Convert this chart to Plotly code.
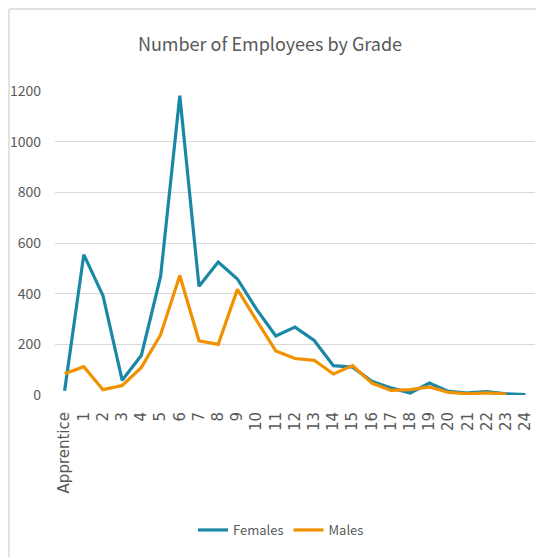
import plotly.graph_objects as go

grades = ["Apprentice"] + [str(i) for i in range(1, 25)]
females = [17, 554, 392, 58, 157, 468, 1182, 429, 525, 458, 338, 233, 268, 215, 116, 110, 54, 28, 8, 47, 14, 8, 13, 5, 2]
males = [84, 112, 21, 37, 109, 238, 472, 214, 200, 417, 294, 174, 144, 137, 83, 116, 47, 18, 21, 32, 10, 5, 8, 4]

TEAL = "#1A88A5"
ORANGE = "#F29100"
GRAY = "#595959"
NARROW = "Noto Sans CJK SC, Lato, sans-serif"

fig = go.Figure()
fig.add_trace(go.Scatter(x=grades, y=females, mode="lines", name="Females",
                         line=dict(color=TEAL, width=3.2)))
fig.add_trace(go.Scatter(x=grades[:len(males)], y=males, mode="lines", name="Males",
                         line=dict(color=ORANGE, width=3.2)))

# page has an 8px body margin, so figure coordinates = page coordinates - 8
OFF = 8
W, H = 536, 549
L = 55 - OFF
T = 91 - OFF
R = W - (535 - OFF)
B = H - (395 - OFF)
pw = W - L - R
ph = H - T - B

def px_x(p):
    return (p - OFF - L) / pw

def px_y(p):
    return ((395 - OFF) - (p - OFF)) / ph

fig.update_layout(
    width=W, height=H,
    margin=dict(l=L, r=R, t=T, b=B, autoexpand=False),
    paper_bgcolor="white", plot_bgcolor="white",
    title=dict(text="Number of Employees by Grade", x=(270 - OFF) / W, xanchor="center",
               y=1 - (45 - OFF) / H, yanchor="middle",
               font=dict(family=NARROW, size=18, color=GRAY)),
    xaxis=dict(type="category", categoryorder="array", categoryarray=grades,
               range=[-0.5, 24.5], tickangle=-90, showgrid=False, zeroline=False,
               showline=False, ticks="", ticklabelstandoff=13, automargin=False,
               tickfont=dict(family="DejaVu Sans", size=15, color=GRAY)),
    yaxis=dict(range=[0, 1200], tickvals=[0, 200, 400, 600, 800, 1000, 1200],
               showgrid=True, gridcolor="#D9D9D9", gridwidth=1.2, zeroline=False,
               showline=False, ticks="", ticklabelstandoff=13, automargin=False,
               tickfont=dict(family=NARROW, size=14, color=GRAY)),
    legend=dict(orientation="h", x=px_x(281), xanchor="center", y=px_y(530),
                yanchor="middle", font=dict(family=NARROW, size=13, color=GRAY),
                itemwidth=30, tracegroupgap=0),
    shapes=[
        dict(type="line", xref="paper", yref="paper",
             x0=px_x(9), x1=px_x(9), y0=px_y(557), y1=px_y(9),
             line=dict(color="#D9D9D9", width=1.5)),
        dict(type="line", xref="paper", yref="paper",
             x0=px_x(9), x1=px_x(541), y0=px_y(9), y1=px_y(9),
             line=dict(color="#D9D9D9", width=1.5)),
    ],
)

fig.write_html("out.html")
